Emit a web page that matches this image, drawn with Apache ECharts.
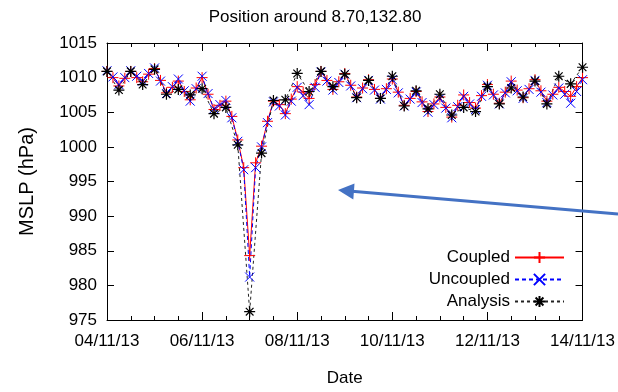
<!DOCTYPE html>
<html>
<head>
<meta charset="utf-8">
<script src="https://cdn.jsdelivr.net/npm/echarts@6/dist/echarts.min.js"></script>
<style>
  html, body { margin: 0; padding: 0; background: #fff; }
  #chart { width: 618px; height: 392px; }
</style>
</head>
<body>
<div id="chart"></div>
<script>
// Mean sea level pressure (hPa) at 8.70N, 132.80E, 4-14 Nov 2013.
// Model runs are sampled every 3 h, the analysis every 6 h.
const modelStepHours = 3;
const analysisStepHours = 6;

const xTickLabels = ['04/11/13', '06/11/13', '08/11/13', '10/11/13', '12/11/13', '14/11/13'];
const yTicks = [975, 980, 985, 990, 995, 1000, 1005, 1010, 1015];

const coupledMSLP = [
  1010.9, 1010.0, 1008.8, 1009.9, 1010.9, 1010.0, 1009.4, 1010.5, 1011.3, 1009.6,
  1007.8, 1008.6, 1009.5, 1008.0, 1006.8, 1008.5, 1010.0, 1007.6, 1005.4, 1006.0,
  1006.6, 1004.4, 1001.0, 997.0, 984.3, 997.7, 1000.1, 1003.7, 1006.6, 1006.1,
  1004.8, 1006.9, 1008.7, 1007.9, 1007.0, 1009.0, 1010.9, 1009.6, 1008.3, 1009.4,
  1010.6, 1008.9, 1007.2, 1008.5, 1009.7, 1008.3, 1007.0, 1008.4, 1009.8, 1007.9,
  1006.0, 1007.0, 1008.0, 1006.5, 1005.1, 1006.2, 1007.2, 1005.7, 1004.3, 1006.0,
  1007.5, 1006.4, 1005.6, 1007.4, 1009.0, 1007.6, 1006.3, 1007.9, 1009.5, 1008.2,
  1007.1, 1008.4, 1009.7, 1008.1, 1006.6, 1007.6, 1008.6, 1008.0, 1007.3, 1008.7,
  1010.0
];

const uncoupledMSLP = [
  1011.0, 1010.1, 1009.0, 1010.0, 1011.0, 1010.2, 1009.5, 1010.6, 1011.4, 1009.5,
  1007.7, 1008.7, 1009.8, 1008.1, 1006.6, 1008.4, 1010.2, 1007.7, 1005.5, 1006.1,
  1006.7, 1004.2, 1000.8, 996.7, 981.2, 997.0, 1000.0, 1003.5, 1006.5, 1005.9,
  1004.6, 1006.6, 1008.6, 1007.4, 1006.1, 1008.6, 1010.8, 1009.5, 1008.2, 1009.3,
  1010.5, 1008.8, 1007.1, 1008.4, 1009.6, 1008.2, 1006.9, 1008.3, 1009.7, 1007.8,
  1005.9, 1006.9, 1007.9, 1006.4, 1005.0, 1006.1, 1007.0, 1005.6, 1004.2, 1005.8,
  1007.3, 1006.2, 1005.4, 1007.3, 1008.9, 1007.5, 1006.2, 1007.8, 1009.4, 1008.1,
  1007.0, 1008.3, 1009.6, 1007.9, 1006.4, 1007.5, 1008.5, 1007.6, 1006.3, 1008.0,
  1009.7
];

const analysisMSLP = [
  1010.9, 1008.2, 1010.9, 1009.0, 1011.2, 1007.6, 1008.3, 1007.5, 1008.4, 1004.8,
  1005.7, 1000.3, 976.2, 999.1, 1006.7, 1006.8, 1010.6, 1008.0, 1010.9, 1008.7,
  1010.5, 1007.1, 1009.6, 1007.0, 1010.2, 1005.9, 1008.1, 1005.5, 1007.6, 1004.6,
  1005.7, 1005.1, 1008.7, 1006.2, 1008.5, 1007.2, 1009.5, 1006.2, 1010.2, 1009.1,
  1011.5
];

const FONT = "'Liberation Sans', Arial, sans-serif";
const hoursPerLabel = 48;

// gnuplot-style point markers drawn as stroked paths
const plusMark = 'path://M5,0L5,10M0,5L10,5';
const crossMark = 'path://M0,0L10,10M10,0L0,10';
const starMark = 'path://M5,0L5,10M0,5L10,5M1.5,1.5L8.5,8.5M8.5,1.5L1.5,8.5';

const toPairs = (arr, step) => arr.map((v, k) => [k * step, v]);

const chart = echarts.init(document.getElementById('chart'), null, { renderer: 'canvas' });

const xBase = {
  type: 'value',
  min: 0,
  max: 240,
  interval: hoursPerLabel,
  splitLine: { show: false },
  axisLine: { show: true, onZero: false, lineStyle: { color: '#000', width: 1 } },
  axisTick: { show: true, inside: true, length: 8, lineStyle: { color: '#000', width: 1 } },
  minorTick: { show: true, splitNumber: 4, length: 4, lineStyle: { color: '#000', width: 1 } }
};
const yBase = {
  type: 'value',
  min: yTicks[0],
  max: yTicks[yTicks.length - 1],
  interval: 5,
  splitLine: { show: false },
  axisLine: { show: true, onZero: false, lineStyle: { color: '#000', width: 1 } },
  axisTick: { show: true, inside: true, length: 7, lineStyle: { color: '#000', width: 1 } }
};

const option = {
  animation: false,
  backgroundColor: '#fff',
  textStyle: { fontFamily: FONT },
  title: {
    text: 'Position around 8.70,132.80',
    left: 310,
    textAlign: 'center',
    top: 4,
    textStyle: { fontFamily: FONT, fontSize: 17, fontWeight: 'normal', color: '#000' }
  },
  grid: { left: 107, right: 33, top: 43, bottom: 71, containLabel: false },
  legend: {
    orient: 'vertical',
    align: 'right',
    right: 53,
    top: 249,
    padding: 0,
    itemWidth: 49,
    itemHeight: 14,
    itemGap: 5,
    selectedMode: false,
    textStyle: { fontFamily: FONT, fontSize: 17, color: '#000' },
    data: ['Coupled', 'Uncoupled', 'Analysis']
  },
  xAxis: [
    Object.assign({}, xBase, {
      position: 'bottom',
      name: 'Date',
      nameLocation: 'middle',
      nameGap: 50,
      nameTextStyle: { fontFamily: FONT, fontSize: 17, color: '#000' },
      axisLabel: {
        show: true, margin: 13, fontFamily: FONT, fontSize: 17, color: '#000',
        formatter: v => xTickLabels[Math.round(v / hoursPerLabel)] || ''
      }
    }),
    Object.assign({}, xBase, { position: 'top', axisLabel: { show: false } })
  ],
  yAxis: [
    Object.assign({}, yBase, {
      position: 'left',
      name: 'MSLP (hPa)',
      nameLocation: 'middle',
      nameRotate: 90,
      nameGap: 70,
      nameTextStyle: { fontFamily: FONT, fontSize: 20, color: '#000' },
      axisLabel: {
        show: true, margin: 10, fontFamily: FONT, fontSize: 17, color: '#000',
        formatter: v => String(v)
      }
    }),
    Object.assign({}, yBase, { position: 'right', axisLabel: { show: false } })
  ],
  series: [
    {
      name: 'Coupled',
      type: 'line',
      data: toPairs(coupledMSLP, modelStepHours),
      symbol: plusMark,
      symbolSize: 11,
      showAllSymbol: true,
      lineStyle: { color: '#ff0000', width: 1, type: 'solid' },
      itemStyle: { color: '#ff0000', borderColor: '#ff0000', borderWidth: 1 },
      emphasis: { disabled: true }
    },
    {
      name: 'Uncoupled',
      type: 'line',
      data: toPairs(uncoupledMSLP, modelStepHours),
      symbol: crossMark,
      symbolSize: 9,
      showAllSymbol: true,
      lineStyle: { color: '#0000ff', width: 1, type: [4, 3] },
      itemStyle: { color: '#0000ff', borderColor: '#0000ff', borderWidth: 1 },
      emphasis: { disabled: true }
    },
    {
      name: 'Analysis',
      type: 'line',
      data: toPairs(analysisMSLP, analysisStepHours),
      symbol: starMark,
      symbolSize: 11,
      showAllSymbol: true,
      lineStyle: { color: '#222222', width: 1, type: [3, 3] },
      itemStyle: { color: '#000000', borderColor: '#000000', borderWidth: 1.2 },
      emphasis: { disabled: true }
    }
  ],
  graphic: [
    // callout arrow pointing into the plot
    {
      type: 'line',
      shape: { x1: 618, y1: 214, x2: 352, y2: 191.3 },
      style: { stroke: '#4472c4', lineWidth: 3 },
      z: 100
    },
    {
      type: 'polygon',
      shape: { points: [[338, 190], [354.5, 183.4], [353.3, 199.4]] },
      style: { fill: '#4472c4' },
      z: 100
    }
  ]
};

chart.setOption(option);
</script>
</body>
</html>
